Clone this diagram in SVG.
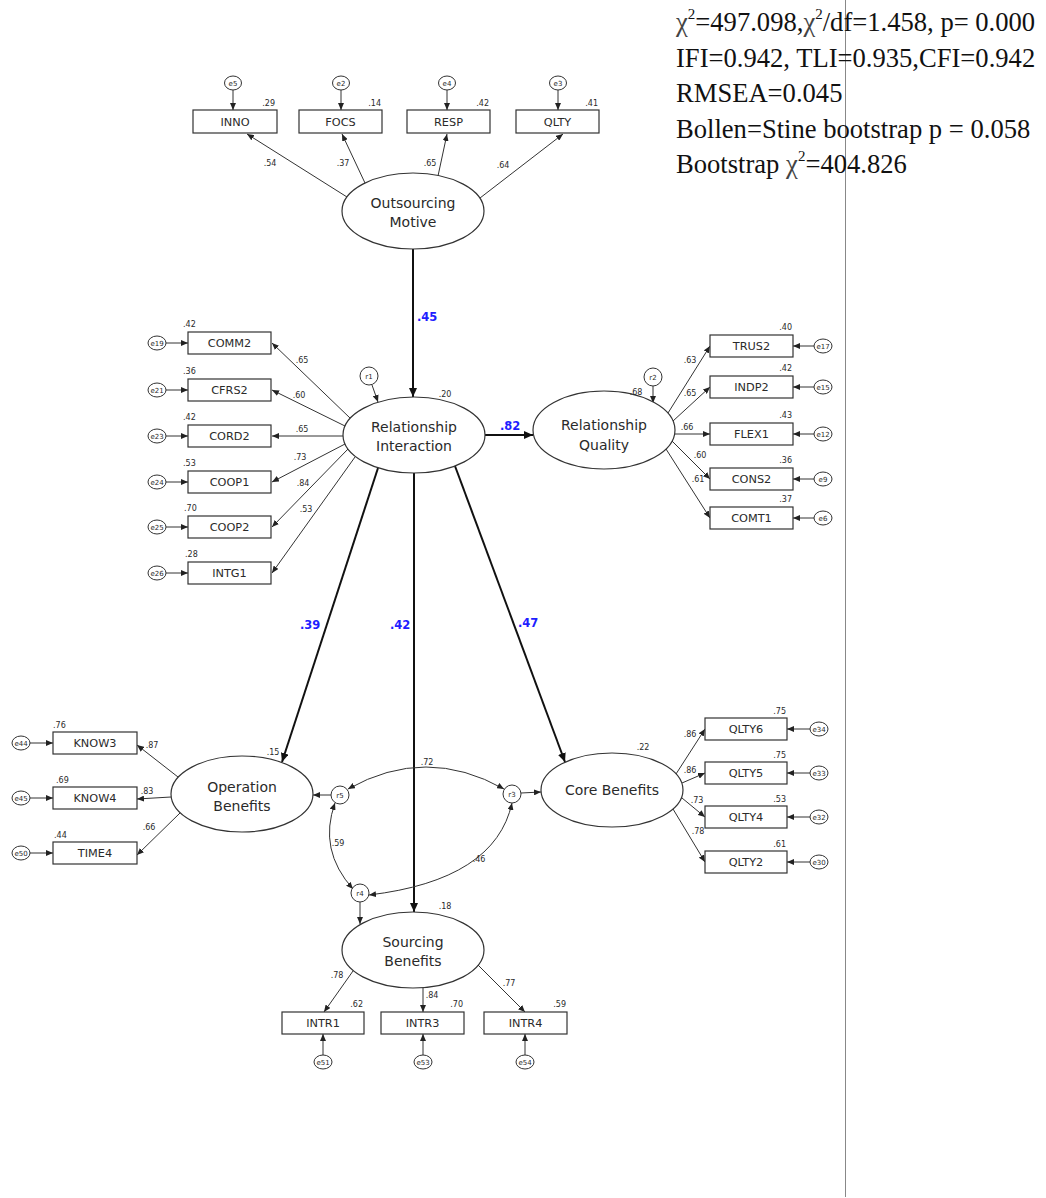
<svg xmlns="http://www.w3.org/2000/svg" width="1046" height="1198" viewBox="0 0 1046 1198">
  <style>
    .box { fill: #fff; stroke: #333; stroke-width: 1.2; }
    .lat { fill: #fff; stroke: #333; stroke-width: 1.2; }
    .err { fill: #fff; stroke: #333; stroke-width: 1; }
    text { font-family: "DejaVu Sans", Verdana, sans-serif; fill: #2a2a2a; }
    .obs { font-size: 11.3px; text-anchor: middle; }
    .lv { font-size: 14px; text-anchor: middle; }
    .num { font-size: 8px; text-anchor: middle; }
    .numl { font-size: 8px; text-anchor: start; }
    .numr { font-size: 8px; text-anchor: end; }
    .et { font-size: 7px; text-anchor: middle; }
    .coef { font-size: 11.5px; font-weight: bold; fill: #1e1eff; text-anchor: start; }
    .struct { stroke: #111; stroke-width: 2; fill: none; marker-end: url(#headBig); }
    .load { stroke: #333; stroke-width: 1; fill: none; marker-end: url(#head); }
    .cov { stroke: #333; stroke-width: 1; fill: none; marker-start: url(#head); marker-end: url(#head); }
    .fit { font-family: "Liberation Serif", "Times New Roman", serif; font-size: 26.6px; fill: #111; }
    .chi { fill: #444; }
    .sup { font-size: 15px; }
  </style>
  <defs>
    <marker id="head" markerUnits="userSpaceOnUse" markerWidth="7" markerHeight="6" refX="7" refY="3" orient="auto-start-reverse">
      <path d="M0,0 L7,3 L0,6 z" fill="#222"/>
    </marker>
    <marker id="headBig" markerUnits="userSpaceOnUse" markerWidth="9" markerHeight="8" refX="9" refY="4" orient="auto">
      <path d="M0,0 L9,4 L0,8 z" fill="#111"/>
    </marker>
  </defs>

  <rect x="0" y="0" width="1046" height="1198" fill="#fff"/>

  <!-- page divider -->
  <line x1="845.5" y1="0" x2="845.5" y2="1197" stroke="#888" stroke-width="1"/>

  <!-- model fit summary -->
  <g id="fit-stats">
    <text class="fit" x="676" y="31"><tspan class="chi">χ</tspan><tspan class="sup" dy="-12">2</tspan><tspan dy="12">=497.098,</tspan><tspan class="chi">χ</tspan><tspan class="sup" dy="-12">2</tspan><tspan dy="12">/df=1.458, p= 0.000</tspan></text>
    <text class="fit" x="676" y="67">IFI=0.942, TLI=0.935,CFI=0.942</text>
    <text class="fit" x="676" y="102">RMSEA=0.045</text>
    <text class="fit" x="676" y="138">Bollen=Stine bootstrap p = 0.058</text>
    <text class="fit" x="676" y="173">Bootstrap <tspan class="chi">χ</tspan><tspan class="sup" dy="-12">2</tspan><tspan dy="12">=404.826</tspan></text>
  </g>

  <!-- connectors -->
  <g id="connectors">
    <!-- structural paths -->
    <line class="struct" x1="413" y1="249" x2="413" y2="397"/>
    <line class="struct" x1="485" y1="435" x2="533" y2="435"/>
    <line class="struct" x1="378" y1="468" x2="282" y2="762"/>
    <line class="struct" x1="414" y1="473" x2="414" y2="912"/>
    <line class="struct" x1="455" y1="466" x2="565" y2="762"/>

    <!-- Outsourcing Motive loadings -->
    <line class="load" x1="347" y1="197" x2="247" y2="134"/>
    <line class="load" x1="365" y1="183" x2="342" y2="134"/>
    <line class="load" x1="438" y1="176" x2="447" y2="134"/>
    <line class="load" x1="480" y1="198" x2="563" y2="134"/>
    <!-- OM error terms -->
    <line class="load" x1="233" y1="90" x2="233" y2="110"/>
    <line class="load" x1="341" y1="90" x2="341" y2="110"/>
    <line class="load" x1="447" y1="90" x2="447" y2="110"/>
    <line class="load" x1="558" y1="90" x2="558" y2="110"/>

    <!-- Relationship Interaction loadings -->
    <line class="load" x1="350" y1="418" x2="272" y2="343"/>
    <line class="load" x1="345" y1="426" x2="272" y2="390"/>
    <line class="load" x1="343" y1="436" x2="272" y2="436"/>
    <line class="load" x1="345" y1="444" x2="272" y2="482"/>
    <line class="load" x1="348" y1="449" x2="272" y2="527"/>
    <line class="load" x1="355" y1="457" x2="272" y2="573"/>
    <line class="load" x1="166" y1="343" x2="188" y2="343"/>
    <line class="load" x1="166" y1="390" x2="188" y2="390"/>
    <line class="load" x1="166" y1="436" x2="188" y2="436"/>
    <line class="load" x1="166" y1="482" x2="188" y2="482"/>
    <line class="load" x1="166" y1="527" x2="188" y2="527"/>
    <line class="load" x1="166" y1="573" x2="188" y2="573"/>
    <line class="load" x1="372" y1="385" x2="378" y2="402"/>

    <!-- Relationship Quality loadings -->
    <line class="load" x1="668" y1="413" x2="710" y2="346"/>
    <line class="load" x1="673" y1="421" x2="710" y2="387"/>
    <line class="load" x1="675" y1="434" x2="710" y2="434"/>
    <line class="load" x1="672" y1="441" x2="710" y2="479"/>
    <line class="load" x1="666" y1="449" x2="710" y2="518"/>
    <line class="load" x1="814" y1="346" x2="793" y2="346"/>
    <line class="load" x1="814" y1="387" x2="793" y2="387"/>
    <line class="load" x1="814" y1="434" x2="793" y2="434"/>
    <line class="load" x1="814" y1="479" x2="793" y2="479"/>
    <line class="load" x1="814" y1="518" x2="793" y2="518"/>
    <line class="load" x1="653" y1="386" x2="653" y2="403"/>

    <!-- Operation Benefits loadings -->
    <line class="load" x1="178" y1="777" x2="137" y2="745"/>
    <line class="load" x1="171" y1="797" x2="137" y2="799"/>
    <line class="load" x1="180" y1="813" x2="137" y2="855"/>
    <line class="load" x1="30" y1="743" x2="53" y2="743"/>
    <line class="load" x1="30" y1="798" x2="53" y2="798"/>
    <line class="load" x1="30" y1="853" x2="53" y2="853"/>
    <line class="load" x1="331" y1="795" x2="313" y2="795"/>

    <!-- Core Benefits loadings -->
    <line class="load" x1="676" y1="774" x2="705" y2="729"/>
    <line class="load" x1="682" y1="783" x2="705" y2="773"/>
    <line class="load" x1="682" y1="798" x2="705" y2="817"/>
    <line class="load" x1="673" y1="809" x2="705" y2="862"/>
    <line class="load" x1="810" y1="729" x2="787" y2="729"/>
    <line class="load" x1="810" y1="773" x2="787" y2="773"/>
    <line class="load" x1="810" y1="817" x2="787" y2="817"/>
    <line class="load" x1="810" y1="862" x2="787" y2="862"/>
    <line class="load" x1="521" y1="793" x2="541" y2="792"/>

    <!-- Sourcing Benefits loadings -->
    <line class="load" x1="353" y1="971" x2="324" y2="1012"/>
    <line class="load" x1="423" y1="988" x2="423" y2="1012"/>
    <line class="load" x1="478" y1="965" x2="525" y2="1012"/>
    <line class="load" x1="323" y1="1055" x2="323" y2="1034"/>
    <line class="load" x1="423" y1="1055" x2="423" y2="1034"/>
    <line class="load" x1="525" y1="1055" x2="525" y2="1034"/>
    <line class="load" x1="360" y1="902" x2="360" y2="924"/>

    <!-- residual covariances -->
    <path class="cov" d="M348,789 Q426,745 504,789"/>
    <path class="cov" d="M335,803 Q318,850 353,889"/>
    <path class="cov" d="M512,803 Q495,880 369,895"/>
  </g>

  <!-- path coefficients -->
  <g id="coefficients">
    <text class="coef" x="417" y="321">.45</text>
    <text class="coef" x="500" y="430">.82</text>
    <text class="coef" x="300" y="629">.39</text>
    <text class="coef" x="390" y="629">.42</text>
    <text class="coef" x="518" y="627">.47</text>
  </g>

  <!-- latent: Outsourcing Motive -->
  <g id="outsourcing-motive">
    <ellipse class="lat" cx="413" cy="211" rx="71" ry="38"/>
    <text class="lv" x="413" y="208">Outsourcing</text>
    <text class="lv" x="413" y="227">Motive</text>
    <text class="num" x="270" y="166">.54</text>
    <text class="num" x="343" y="166">.37</text>
    <text class="num" x="430" y="166">.65</text>
    <text class="num" x="503" y="168">.64</text>
  </g>
  <g id="INNO"><rect class="box" x="193" y="110" width="84" height="23"/><text class="obs" x="235" y="125.5">INNO</text><text class="numr" x="275" y="106">.29</text></g>
  <g id="FOCS"><rect class="box" x="299" y="110" width="83" height="23"/><text class="obs" x="340.5" y="125.5">FOCS</text><text class="numr" x="381" y="106">.14</text></g>
  <g id="RESP"><rect class="box" x="407" y="110" width="83" height="23"/><text class="obs" x="448.5" y="125.5">RESP</text><text class="numr" x="489" y="106">.42</text></g>
  <g id="QLTY"><rect class="box" x="516" y="110" width="83" height="23"/><text class="obs" x="557.5" y="125.5">QLTY</text><text class="numr" x="598" y="106">.41</text></g>
  <g id="e5"><ellipse class="err" cx="233" cy="83" rx="8.5" ry="7"/><text class="et" x="233" y="85.5">e5</text></g>
  <g id="e2"><ellipse class="err" cx="341" cy="83" rx="8.5" ry="7"/><text class="et" x="341" y="85.5">e2</text></g>
  <g id="e4"><ellipse class="err" cx="447" cy="83" rx="8.5" ry="7"/><text class="et" x="447" y="85.5">e4</text></g>
  <g id="e3"><ellipse class="err" cx="558" cy="83" rx="8.5" ry="7"/><text class="et" x="558" y="85.5">e3</text></g>

  <!-- latent: Relationship Interaction -->
  <g id="relationship-interaction">
    <ellipse class="lat" cx="414" cy="435" rx="71" ry="38"/>
    <text class="lv" x="414" y="432">Relationship</text>
    <text class="lv" x="414" y="451">Interaction</text>
    <text class="num" x="445" y="397">.20</text>
    <text class="num" x="302" y="363">.65</text>
    <text class="num" x="299" y="398">.60</text>
    <text class="num" x="302" y="432">.65</text>
    <text class="num" x="300" y="460">.73</text>
    <text class="num" x="303" y="486">.84</text>
    <text class="num" x="306" y="512">.53</text>
  </g>
  <g id="r1"><ellipse class="err" cx="369" cy="376" rx="9" ry="9"/><text class="et" x="369" y="378.5">r1</text></g>
  <g id="COMM2"><rect class="box" x="188" y="332" width="83" height="22"/><text class="obs" x="229.5" y="347">COMM2</text><text class="numl" x="183" y="327">.42</text></g>
  <g id="CFRS2"><rect class="box" x="188" y="379" width="83" height="22"/><text class="obs" x="229.5" y="394">CFRS2</text><text class="numl" x="183" y="374">.36</text></g>
  <g id="CORD2"><rect class="box" x="188" y="425" width="83" height="22"/><text class="obs" x="229.5" y="440">CORD2</text><text class="numl" x="183" y="420">.42</text></g>
  <g id="COOP1"><rect class="box" x="188" y="471" width="83" height="22"/><text class="obs" x="229.5" y="486">COOP1</text><text class="numl" x="183" y="466">.53</text></g>
  <g id="COOP2"><rect class="box" x="188" y="516" width="83" height="22"/><text class="obs" x="229.5" y="531">COOP2</text><text class="numl" x="184" y="511">.70</text></g>
  <g id="INTG1"><rect class="box" x="188" y="562" width="83" height="22"/><text class="obs" x="229.5" y="577">INTG1</text><text class="numl" x="185" y="557">.28</text></g>
  <g id="e19"><ellipse class="err" cx="157" cy="343" rx="9" ry="7"/><text class="et" x="157" y="345.5">e19</text></g>
  <g id="e21"><ellipse class="err" cx="157" cy="390" rx="9" ry="7"/><text class="et" x="157" y="392.5">e21</text></g>
  <g id="e23"><ellipse class="err" cx="157" cy="436" rx="9" ry="7"/><text class="et" x="157" y="438.5">e23</text></g>
  <g id="e24"><ellipse class="err" cx="157" cy="482" rx="9" ry="7"/><text class="et" x="157" y="484.5">e24</text></g>
  <g id="e25"><ellipse class="err" cx="157" cy="527" rx="9" ry="7"/><text class="et" x="157" y="529.5">e25</text></g>
  <g id="e26"><ellipse class="err" cx="157" cy="573" rx="9" ry="7"/><text class="et" x="157" y="575.5">e26</text></g>

  <!-- latent: Relationship Quality -->
  <g id="relationship-quality">
    <ellipse class="lat" cx="604" cy="430" rx="71" ry="39"/>
    <text class="lv" x="604" y="430">Relationship</text>
    <text class="lv" x="604" y="450">Quality</text>
    <text class="num" x="636" y="395">.68</text>
    <text class="num" x="690" y="363">.63</text>
    <text class="num" x="690" y="396">.65</text>
    <text class="num" x="687" y="430">.66</text>
    <text class="num" x="700" y="458">.60</text>
    <text class="num" x="698" y="482">.61</text>
  </g>
  <g id="r2"><ellipse class="err" cx="653" cy="377" rx="9" ry="9"/><text class="et" x="653" y="379.5">r2</text></g>
  <g id="TRUS2"><rect class="box" x="710" y="335" width="83" height="22"/><text class="obs" x="751.5" y="350">TRUS2</text><text class="numr" x="792" y="330">.40</text></g>
  <g id="INDP2"><rect class="box" x="710" y="376" width="83" height="22"/><text class="obs" x="751.5" y="391">INDP2</text><text class="numr" x="792" y="371">.42</text></g>
  <g id="FLEX1"><rect class="box" x="710" y="423" width="83" height="22"/><text class="obs" x="751.5" y="438">FLEX1</text><text class="numr" x="792" y="418">.43</text></g>
  <g id="CONS2"><rect class="box" x="710" y="468" width="83" height="22"/><text class="obs" x="751.5" y="483">CONS2</text><text class="numr" x="792" y="463">.36</text></g>
  <g id="COMT1"><rect class="box" x="710" y="507" width="83" height="22"/><text class="obs" x="751.5" y="522">COMT1</text><text class="numr" x="792" y="502">.37</text></g>
  <g id="e17"><ellipse class="err" cx="823" cy="346" rx="9" ry="7"/><text class="et" x="823" y="348.5">e17</text></g>
  <g id="e15"><ellipse class="err" cx="823" cy="387" rx="9" ry="7"/><text class="et" x="823" y="389.5">e15</text></g>
  <g id="e12"><ellipse class="err" cx="823" cy="434" rx="9" ry="7"/><text class="et" x="823" y="436.5">e12</text></g>
  <g id="e9"><ellipse class="err" cx="823" cy="479" rx="9" ry="7"/><text class="et" x="823" y="481.5">e9</text></g>
  <g id="e6"><ellipse class="err" cx="823" cy="518" rx="9" ry="7"/><text class="et" x="823" y="520.5">e6</text></g>

  <!-- latent: Operation Benefits -->
  <g id="operation-benefits">
    <ellipse class="lat" cx="242" cy="794" rx="71" ry="38"/>
    <text class="lv" x="242" y="792">Operation</text>
    <text class="lv" x="242" y="811">Benefits</text>
    <text class="num" x="273" y="755">.15</text>
    <text class="num" x="152" y="748">.87</text>
    <text class="num" x="147" y="794">.83</text>
    <text class="num" x="149" y="830">.66</text>
  </g>
  <g id="r5"><ellipse class="err" cx="340" cy="795" rx="9" ry="9"/><text class="et" x="340" y="797.5">r5</text></g>
  <g id="KNOW3"><rect class="box" x="53" y="732" width="84" height="22"/><text class="obs" x="95" y="747">KNOW3</text><text class="numl" x="53" y="728">.76</text></g>
  <g id="KNOW4"><rect class="box" x="53" y="787" width="84" height="22"/><text class="obs" x="95" y="802">KNOW4</text><text class="numl" x="56" y="783">.69</text></g>
  <g id="TIME4"><rect class="box" x="53" y="842" width="84" height="22"/><text class="obs" x="95" y="857">TIME4</text><text class="numl" x="54" y="838">.44</text></g>
  <g id="e44"><ellipse class="err" cx="21" cy="743" rx="9" ry="7"/><text class="et" x="21" y="745.5">e44</text></g>
  <g id="e45"><ellipse class="err" cx="21" cy="798" rx="9" ry="7"/><text class="et" x="21" y="800.5">e45</text></g>
  <g id="e50"><ellipse class="err" cx="21" cy="853" rx="9" ry="7"/><text class="et" x="21" y="855.5">e50</text></g>

  <!-- latent: Core Benefits -->
  <g id="core-benefits">
    <ellipse class="lat" cx="612" cy="790" rx="71" ry="37"/>
    <text class="lv" x="612" y="795">Core Benefits</text>
    <text class="num" x="643" y="750">.22</text>
    <text class="num" x="690" y="737">.86</text>
    <text class="num" x="690" y="773">.86</text>
    <text class="num" x="697" y="803">.73</text>
    <text class="num" x="698" y="834">.78</text>
  </g>
  <g id="r3"><ellipse class="err" cx="512" cy="794" rx="9" ry="9"/><text class="et" x="512" y="796.5">r3</text></g>
  <g id="QLTY6"><rect class="box" x="705" y="718" width="82" height="22"/><text class="obs" x="746" y="733">QLTY6</text><text class="numr" x="786" y="714">.75</text></g>
  <g id="QLTY5"><rect class="box" x="705" y="762" width="82" height="22"/><text class="obs" x="746" y="777">QLTY5</text><text class="numr" x="786" y="758">.75</text></g>
  <g id="QLTY4"><rect class="box" x="705" y="806" width="82" height="22"/><text class="obs" x="746" y="821">QLTY4</text><text class="numr" x="786" y="802">.53</text></g>
  <g id="QLTY2"><rect class="box" x="705" y="851" width="82" height="22"/><text class="obs" x="746" y="866">QLTY2</text><text class="numr" x="786" y="847">.61</text></g>
  <g id="e34"><ellipse class="err" cx="819" cy="729" rx="9" ry="7"/><text class="et" x="819" y="731.5">e34</text></g>
  <g id="e33"><ellipse class="err" cx="819" cy="773" rx="9" ry="7"/><text class="et" x="819" y="775.5">e33</text></g>
  <g id="e32"><ellipse class="err" cx="819" cy="817" rx="9" ry="7"/><text class="et" x="819" y="819.5">e32</text></g>
  <g id="e30"><ellipse class="err" cx="819" cy="862" rx="9" ry="7"/><text class="et" x="819" y="864.5">e30</text></g>

  <!-- residual covariance values -->
  <g id="covariance-labels">
    <text class="num" x="427" y="765">.72</text>
    <text class="num" x="338" y="846">.59</text>
    <text class="num" x="479" y="862">.46</text>
  </g>

  <!-- latent: Sourcing Benefits -->
  <g id="sourcing-benefits">
    <ellipse class="lat" cx="413" cy="950" rx="71" ry="38"/>
    <text class="lv" x="413" y="947">Sourcing</text>
    <text class="lv" x="413" y="966">Benefits</text>
    <text class="num" x="445" y="909">.18</text>
    <text class="num" x="337" y="978">.78</text>
    <text class="num" x="432" y="998">.84</text>
    <text class="num" x="509" y="986">.77</text>
  </g>
  <g id="r4"><ellipse class="err" cx="360" cy="893" rx="9" ry="9"/><text class="et" x="360" y="895.5">r4</text></g>
  <g id="INTR1"><rect class="box" x="282" y="1012" width="82" height="22"/><text class="obs" x="323" y="1027">INTR1</text><text class="numr" x="363" y="1007">.62</text></g>
  <g id="INTR3"><rect class="box" x="381" y="1012" width="83" height="22"/><text class="obs" x="422.5" y="1027">INTR3</text><text class="numr" x="463" y="1007">.70</text></g>
  <g id="INTR4"><rect class="box" x="484" y="1012" width="83" height="22"/><text class="obs" x="525.5" y="1027">INTR4</text><text class="numr" x="566" y="1007">.59</text></g>
  <g id="e51"><ellipse class="err" cx="323" cy="1062" rx="9" ry="7"/><text class="et" x="323" y="1064.5">e51</text></g>
  <g id="e53"><ellipse class="err" cx="423" cy="1062" rx="9" ry="7"/><text class="et" x="423" y="1064.5">e53</text></g>
  <g id="e54"><ellipse class="err" cx="525" cy="1062" rx="9" ry="7"/><text class="et" x="525" y="1064.5">e54</text></g>
</svg>
